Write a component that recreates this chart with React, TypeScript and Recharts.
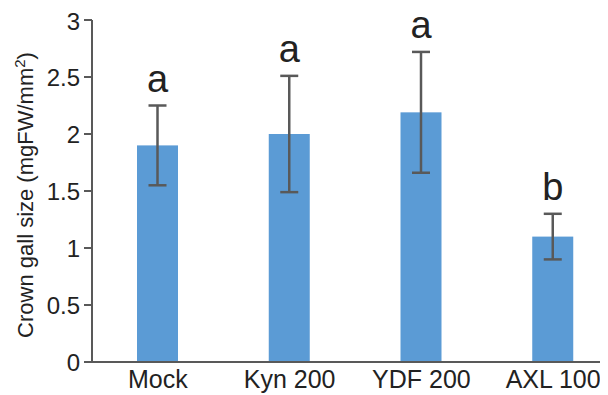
import { Bar, BarChart, ErrorBar, XAxis, YAxis } from 'recharts';

const categories = ['Mock', 'Kyn 200', 'YDF 200', 'AXL 100'];
const means = [1.9, 2.0, 2.19, 1.1];
const errors = [0.35, 0.51, 0.53, 0.2];
const letters = ['a', 'a', 'a', 'b'];
const yTicks = [0, 0.5, 1, 1.5, 2, 2.5, 3];

const data = categories.map((name, i) => ({
  name,
  mean: means[i],
  err: errors[i],
  letter: letters[i],
}));

const AXIS = '#595959';
const FONT = 'Liberation Sans, Arial, Helvetica, sans-serif';

// bar rect plus the significance letter above its error bar
function BarWithLetter(props: any) {
  const { x, y, width, height, payload } = props;
  const pxPerUnit = payload.mean > 0 ? height / payload.mean : 0;
  const errTop = y - payload.err * pxPerUnit;
  return (
    <g>
      <rect x={x} y={y} width={width} height={height} fill="#5B9BD5" />
      <text
        x={x + width / 2}
        y={errTop - 14}
        textAnchor="middle"
        fontSize={38}
        fontFamily={FONT}
        fill="#222"
      >
        {payload.letter}
      </text>
    </g>
  );
}

function YTitle() {
  return (
    <text
      x={25}
      y={187}
      transform="rotate(-90 25 187)"
      textAnchor="middle"
      fontSize={22}
      fontFamily={FONT}
      fill="#222"
    >
      Crown gall size (mgFW/mm
      <tspan dy={-8} fontSize={15}>
        2
      </tspan>
      <tspan dy={8}>)</tspan>
    </text>
  );
}

export default function App() {
  return (
    <div style={{ width: 600, height: 387, overflow: 'hidden', background: '#fff' }}>
      <BarChart
        width={612}
        height={387}
        data={data}
        margin={{ top: 12, right: 1, left: 0, bottom: 0 }}
      >
        <XAxis
          dataKey="name"
          height={33}
          tickLine={false}
          axisLine={{ stroke: AXIS, strokeWidth: 2 }}
          tick={{ fontSize: 25, fill: '#222', fontFamily: FONT }}
          tickMargin={2}
          interval={0}
        />
        <YAxis
          width={84}
          domain={[0, 3]}
          ticks={yTicks}
          tickSize={8}
          tickMargin={4}
          axisLine={{ stroke: AXIS, strokeWidth: 2 }}
          tickLine={{ stroke: AXIS, strokeWidth: 2 }}
          tick={{ fontSize: 24, fill: '#222', fontFamily: FONT }}
          label={{ content: () => <YTitle /> }}
        />
        <Bar dataKey="mean" barSize={41} shape={<BarWithLetter />} isAnimationActive={false}>
          <ErrorBar dataKey="err" width={9} stroke={AXIS} strokeWidth={2.5} direction="y" />
        </Bar>
      </BarChart>
    </div>
  );
}
